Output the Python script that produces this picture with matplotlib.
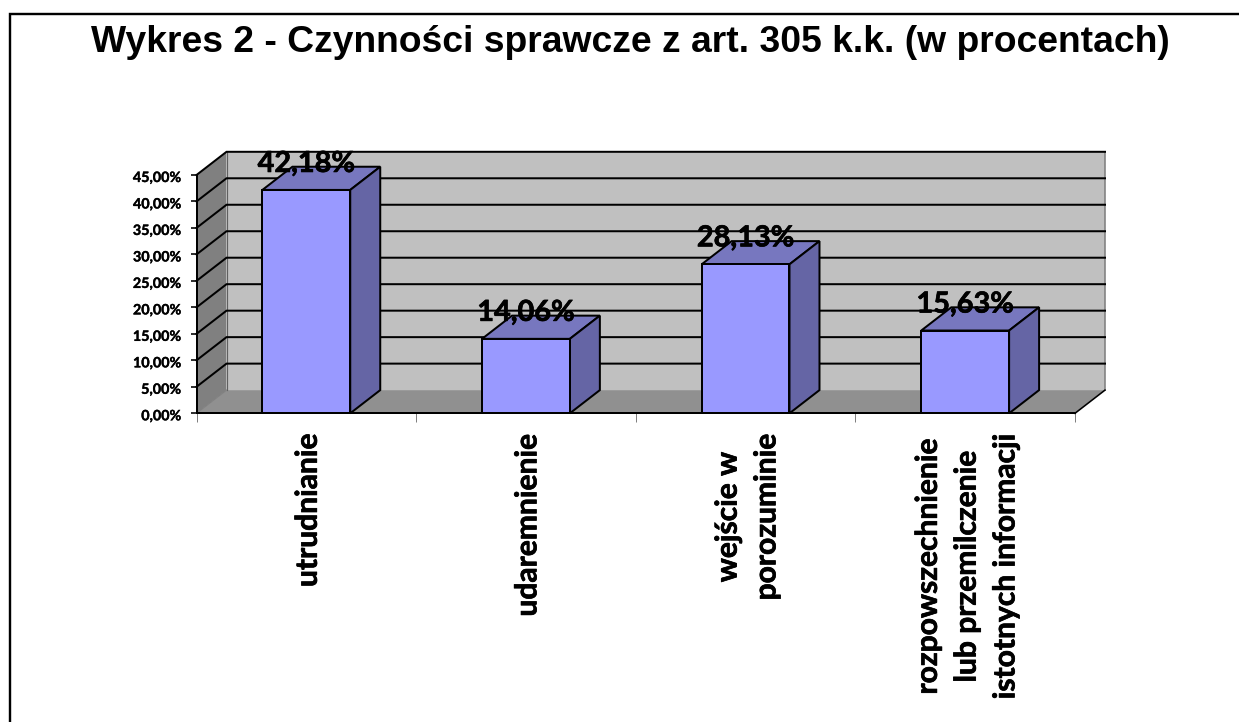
import matplotlib
matplotlib.use("Agg")
import matplotlib.pyplot as plt
import matplotlib.patheffects as pe
from matplotlib.lines import Line2D
from matplotlib.transforms import ScaledTranslation

title = "Wykres 2 - Czynności sprawcze z art. 305 k.k. (w procentach)"
categories = ["utrudnianie", "udaremnienie", "wejście w\nporozuminie",
              "rozpowszechnienie\nlub przemilczenie\nistotnych informacji"]
values = [42.18, 14.06, 28.13, 15.63]
value_labels = ["42,18%", "14,06%", "28,13%", "15,63%"]
y_ticks = [0, 5, 10, 15, 20, 25, 30, 35, 40, 45]
y_tick_labels = ["0,00%", "5,00%", "10,00%", "15,00%", "20,00%",
                 "25,00%", "30,00%", "35,00%", "40,00%", "45,00%"]

W, H = 1239, 722
fig = plt.figure(figsize=(W / 100, H / 100), dpi=100, facecolor="white")

# front plane of the 3-D box, in pixels
L, R, B, T = 196.5, 1075, 413.3, 175
ax = fig.add_axes([L / W, 1 - B / H, (R - L) / W, (B - T) / H])
ax.set_xlim(0, len(categories))
ax.set_ylim(0, 45)
ax.patch.set_visible(False)

DX = 30 / ((R - L) / len(categories))
DY = 23.2 / ((B - T) / 45)
BAR_W = 0.4
px = 0.72
X1 = len(categories)
heavy = [pe.withStroke(linewidth=0.5, foreground="black")]
light = [pe.withStroke(linewidth=0.25, foreground="black")]

# walls and floor
ax.fill([0, DX, DX, 0], [0, DY, 45 + DY, 45], color="#808080", lw=0, zorder=1, clip_on=False)
ax.fill([DX, X1 + DX, X1 + DX, DX], [DY, DY, 45 + DY, 45 + DY], color="#c0c0c0", lw=0, zorder=1, clip_on=False)
ax.fill([0, X1, X1 + DX, DX], [0, 0, DY, DY], color="#909090", lw=0, zorder=1, clip_on=False)
ax.plot([X1 + DX, X1 + DX], [DY, 45 + DY], color="#808080", lw=1.6 * px, zorder=2, clip_on=False)
ax.plot([DX, DX], [DY, 45 + DY], color="#606060", lw=1.2 * px, zorder=2, clip_on=False)
ax.plot([0, DX], [0, DY], color="#808080", lw=1.2 * px, zorder=2, clip_on=False)
ax.plot([X1, X1 + DX], [0, DY], color="black", lw=1.6 * px, zorder=2, clip_on=False)

# gridlines over the side wall and back wall
for v in y_ticks[1:]:
    ax.plot([0, DX, X1 + DX], [v, v + DY, v + DY], color="black", lw=2.0 * px,
            solid_joinstyle="miter", zorder=2, clip_on=False)

# 3-D bars
for i, v in enumerate(values):
    x0 = i + 0.5 - BAR_W / 2
    x1 = i + 0.5 + BAR_W / 2
    ec = dict(edgecolor="black", linewidth=2.0 * px, joinstyle="miter", clip_on=False, zorder=3)
    ax.fill([x0, x1, x1 + DX, x0 + DX], [v, v, v + DY, v + DY], facecolor="#7777bf", **ec)
    ax.fill([x1, x1 + DX, x1 + DX, x1], [0, DY, v + DY, v], facecolor="#6565a5", **ec)
    ax.fill([x0, x1, x1, x0], [0, 0, v, v], facecolor="#9999ff", **ec)
    ax.annotate(value_labels[i], (i + 0.5, v), xytext=(0, 26 / 100 * 72), textcoords="offset points",
                ha="center", va="center", family="Lato", weight="bold", fontsize=20.8,
                color="black", zorder=5, annotation_clip=False, path_effects=heavy)

# axes
for s in ("top", "right"):
    ax.spines[s].set_visible(False)
for s in ("left", "bottom"):
    ax.spines[s].set_linewidth(2.0 * px)
    ax.spines[s].set_zorder(4)
ax.set_yticks(y_ticks, y_tick_labels, family="Lato", weight="bold", fontsize=10.3)
ax.tick_params(axis="y", length=6 * px, width=1.6 * px, pad=9.5 * px)
ax.set_xticks(range(len(categories) + 1), [""] * (len(categories) + 1))
ax.tick_params(axis="x", which="major", length=9 * px, width=1 * px, color="#808080")
ax.set_xticks([i + 0.5 for i in range(len(categories))], categories, minor=True,
              rotation=90, family="Lato", weight="bold", fontsize=21.6, linespacing=1.47,
              va="top", ha="center", multialignment="center")
ax.tick_params(axis="x", which="minor", length=0, pad=20 * px)
for t in ax.get_xticklabels(minor=True):
    t.set_path_effects(heavy)
    t.set_transform(t.get_transform() + ScaledTranslation(1.5 / 100, 0, fig.dpi_scale_trans))
for t in ax.get_yticklabels():
    t.set_path_effects(light)
    t.set_transform(t.get_transform() + ScaledTranslation(0, -2 / 100, fig.dpi_scale_trans))

# title and chart-area frame
fig.text(630 / W, 1 - 42 / H, title, ha="center", va="center",
         family="Liberation Sans", weight="bold", fontsize=26.8)
fig.add_artist(Line2D([10 / W, 10 / W, 1], [0, 1 - 14 / H, 1 - 14 / H],
                      transform=fig.transFigure, color="black", lw=2.4 * px,
                      solid_joinstyle="miter"))

fig.savefig("out.png", dpi=100, facecolor="white")
